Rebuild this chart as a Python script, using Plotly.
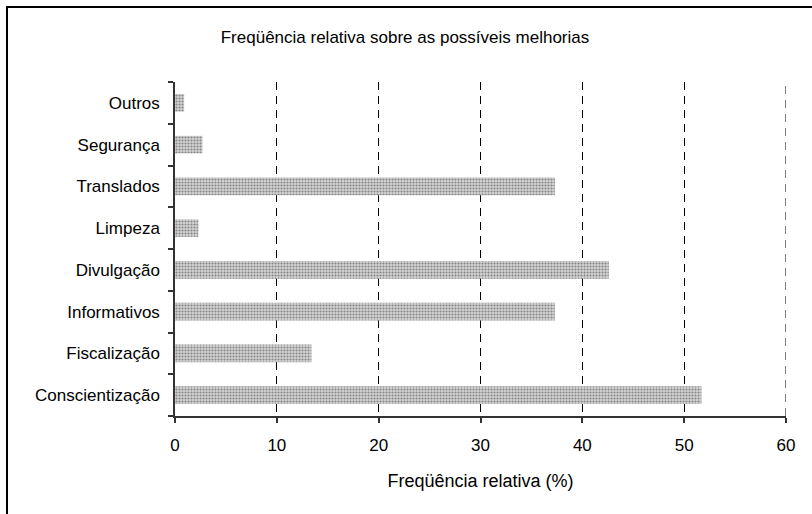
import plotly.graph_objects as go

categories = ["Conscientização", "Fiscalização", "Informativos", "Divulgação",
              "Limpeza", "Translados", "Segurança", "Outros"]
values = [51.7, 13.4, 37.3, 42.6, 2.3, 37.3, 2.7, 0.9]
x_ticks = [0, 10, 20, 30, 40, 50, 60]

W, H = 812, 514
L, R, T, B = 175, 26, 82, 98
pw, ph = W - L - R, H - T - B

def px_x(x):
    return (x - L) / pw

def px_y(y):
    return (H - B - y) / ph

FONT = "Liberation Sans, Arial, sans-serif"
GRID_DASH = "8px,6px"

fig = go.Figure(go.Bar(
    x=values, y=categories, orientation="h",
    marker=dict(color="#d8d8d8", line=dict(width=0),
                pattern=dict(shape=".", fgcolor="#333333", bgcolor="#d4d4d4",
                             size=3, solidity=0.4)),
    width=0.42,
))

fig.update_layout(
    width=W, height=H,
    margin=dict(l=L, r=R, t=T, b=B, pad=0, autoexpand=False),
    paper_bgcolor="white", plot_bgcolor="white",
    font=dict(family=FONT, size=17, color="black"),
    showlegend=False,
    title=dict(text="Freqüência relativa sobre as possíveis melhorias",
               x=px_x(405), xref="paper", xanchor="center",
               y=1 - 37 / H, yanchor="middle",
               font=dict(family=FONT, size=17, color="black")),
    xaxis=dict(range=[0, 60], tickvals=x_ticks, ticktext=[str(v) for v in x_ticks],
               showgrid=True, gridcolor="black", griddash=GRID_DASH, gridwidth=1,
               showline=True, linecolor="#333", linewidth=1.5,
               ticks="outside", ticklen=5, tickcolor="#333", tickwidth=1.5,
               zeroline=False, fixedrange=True, automargin=False,
               tickfont=dict(size=17), ticklabelstandoff=8,
               title=dict(text="Freqüência relativa (%)", standoff=20,
                          font=dict(size=18))),
    yaxis=dict(categoryorder="array", categoryarray=categories,
               tickson="boundaries", ticks="outside", ticklen=5,
               tickcolor="#333", tickwidth=1.5, automargin=False,
               showline=True, linecolor="#333", linewidth=1.5,
               showgrid=False, zeroline=False, fixedrange=True,
               tickfont=dict(size=17), ticklabelstandoff=10),
    bargap=0.58,
    shapes=[
        # last grid line at the right edge of the axis (plotly hides edge gridlines)
        dict(type="line", xref="x", yref="paper", x0=x_ticks[-1], x1=x_ticks[-1],
             y0=0, y1=1, layer="below",
             line=dict(color="black", width=1, dash=GRID_DASH)),
        dict(type="line", xref="paper", yref="paper",
             x0=px_x(7), x1=px_x(7), y0=px_y(7), y1=px_y(H + 2),
             line=dict(color="black", width=2)),
        dict(type="line", xref="paper", yref="paper",
             x0=px_x(6), x1=px_x(W + 2), y0=px_y(7), y1=px_y(7),
             line=dict(color="black", width=2)),
    ],
)

fig.write_html("out.html", config={"displayModeBar": False},
               post_script="document.body.style.margin='0';document.body.style.overflow='hidden';")
